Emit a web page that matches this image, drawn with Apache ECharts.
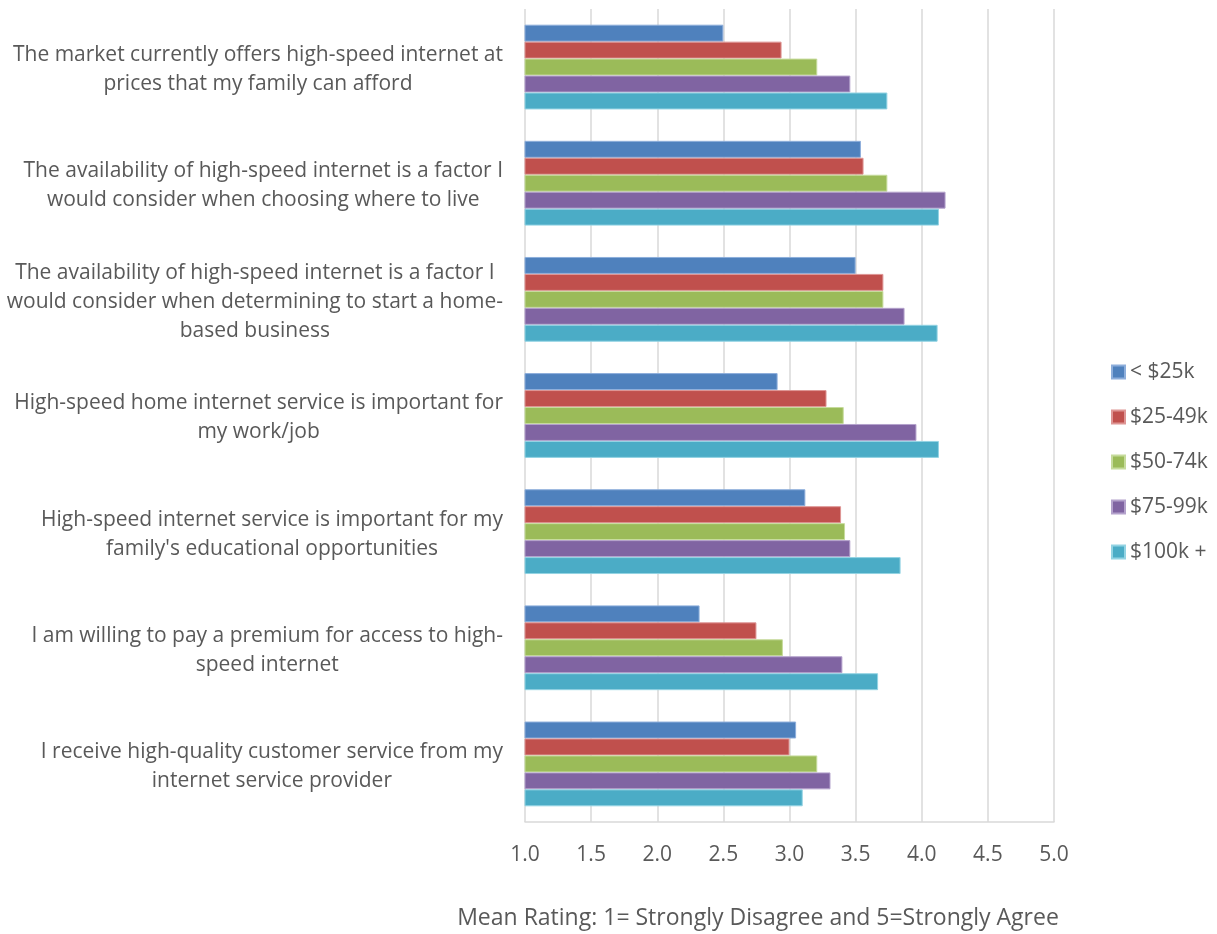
<!DOCTYPE html>
<html>
<head>
<meta charset="utf-8">
<script src="https://cdn.jsdelivr.net/npm/echarts@6/dist/echarts.min.js"></script>
<style>
html,body{margin:0;padding:0;background:#fff;}
#c{width:1217px;height:934px;}
</style>
</head>
<body>
<div id="c"></div>
<script>
const categories = [
  "The market currently offers high-speed internet at\nprices that my family can afford",
  "The availability of high-speed internet is a factor I\nwould consider when choosing where to live",
  "The availability of high-speed internet is a factor I\nwould consider when determining to start a home-\nbased business",
  "High-speed home internet service is important for\nmy work/job",
  "High-speed internet service is important for my\nfamily's educational opportunities",
  "I am willing to pay a premium for access to high-\nspeed internet",
  "I receive high-quality customer service from my\ninternet service provider"
];
const seriesNames = ["< $25k", "$25-49k", "$50-74k", "$75-99k", "$100k +"];
const under25k = [2.50, 3.54, 3.50, 2.91, 3.12, 2.32, 3.05];
const k25to49 = [2.94, 3.56, 3.71, 3.28, 3.39, 2.75, 3.00];
const k50to74 = [3.21, 3.74, 3.71, 3.41, 3.42, 2.95, 3.21];
const k75to99 = [3.46, 4.18, 3.87, 3.96, 3.46, 3.40, 3.31];
const k100plus = [3.74, 4.13, 4.12, 4.13, 3.84, 3.67, 3.10];
const xTicks = ["1.0", "1.5", "2.0", "2.5", "3.0", "3.5", "4.0", "4.5", "5.0"];
const axisTitle = "Mean Rating: 1= Strongly Disagree and 5=Strongly Agree";

const colors = ["#4F81BD", "#C0504D", "#9BBB59", "#8064A2", "#4BACC6"];
const borders = ["#8DAEDB", "#DE9594", "#C6DB9C", "#B4A2CC", "#93D3E3"];
const values = [under25k, k25to49, k50to74, k75to99, k100plus];
const FONT = "Open Sans";
const TXT = "#595959";

const chart = echarts.init(document.getElementById('c'), null, {renderer: 'canvas'});
chart.setOption({
  animation: false,
  backgroundColor: '#fff',
  color: colors,
  textStyle: {fontFamily: FONT},
  grid: {left: 525, right: 163, top: 9, bottom: 112, containLabel: false},
  legend: {
    orient: 'vertical',
    left: 1111,
    top: 360,
    padding: 0,
    itemWidth: 13,
    itemHeight: 13,
    itemGap: 21,
    icon: 'rect',
    data: seriesNames,
    textStyle: {fontFamily: FONT, fontSize: 21, color: TXT, lineHeight: 24}
  },
  xAxis: {
    type: 'value',
    min: 1,
    max: 5,
    interval: 0.5,
    axisLine: {show: true, lineStyle: {color: '#D9D9D9', width: 1.5}},
    axisTick: {show: false},
    splitLine: {show: true, lineStyle: {color: '#D9D9D9', width: 1.5}},
    axisLabel: {
      margin: 23,
      fontFamily: FONT, fontSize: 21, color: TXT,
      formatter: function (v) {
        const i = Math.round((v - 1) / 0.5);
        return xTicks[i] !== undefined ? xTicks[i] : '';
      }
    }
  },
  yAxis: {
    type: 'category',
    data: categories,
    inverse: true,
    axisLine: {show: false},
    axisTick: {show: false},
    splitLine: {show: false},
    axisLabel: {
      margin: 22,
      align: 'right',
      interval: 0,
      formatter: function (v) {
        return v.split('\n').map(function (s) { return '{c|' + s + '}'; }).join('\n');
      },
      rich: {
        c: {align: 'center', fontFamily: FONT, fontSize: 21, color: TXT, lineHeight: 29}
      },
      padding: [5, 0, 0, 0]
    }
  },
  graphic: [{
    type: 'text',
    x: 758,
    y: 918,
    style: {
      text: axisTitle,
      textAlign: 'center',
      textVerticalAlign: 'middle',
      fontFamily: FONT,
      fontSize: 23,
      fill: TXT
    }
  }],
  series: seriesNames.map(function (name, i) {
    return {
      name: name,
      type: 'bar',
      data: values[i],
      barGap: '0%',
      barCategoryGap: '27%',
      itemStyle: {color: colors[i], borderColor: borders[i], borderWidth: 1}
    };
  })
});
</script>
</body>
</html>
